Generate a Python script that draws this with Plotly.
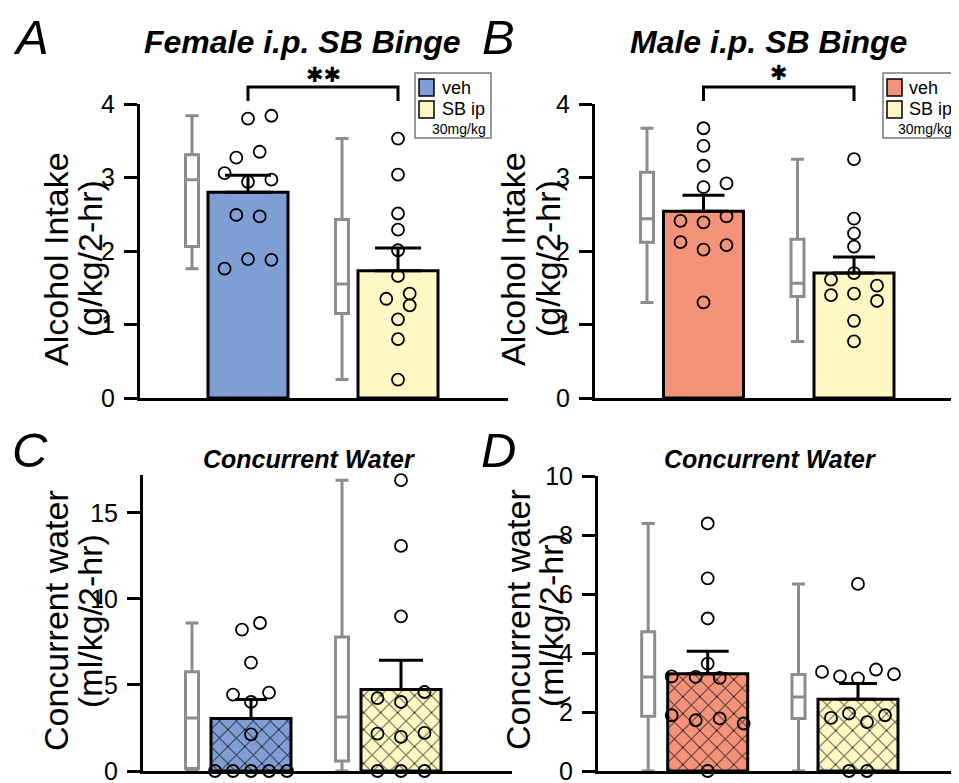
import plotly.graph_objects as go

W, H = 959, 783
OFF = 8  # the page body adds an 8 px margin; layout positions below are page pixels
FONT = "Liberation Sans, Arial, sans-serif"

# ---------------- data ----------------
groups = ["veh", "SB ip"]

# Panel A: Female i.p. SB Binge, alcohol intake (g/kg/2-hr)
A_bar_mean = [2.80, 1.73]
A_bar_sem = [0.23, 0.31]
A_veh_pts = [3.80, 3.84, 3.27, 3.35, 3.06, 2.94, 2.97, 2.49, 2.47, 1.76, 1.89, 1.88]
A_sb_pts = [3.53, 3.04, 2.51, 2.29, 2.01, 1.66, 1.42, 1.35, 1.26, 1.07, 0.80, 0.25]
A_box_low = [1.76, 0.25]
A_box_q1 = [2.06, 1.15]
A_box_med = [2.97, 1.55]
A_box_q3 = [3.31, 2.43]
A_box_high = [3.84, 3.53]

# Panel B: Male i.p. SB Binge, alcohol intake (g/kg/2-hr)
B_bar_mean = [2.54, 1.70]
B_bar_sem = [0.22, 0.22]
B_veh_pts = [3.67, 3.43, 3.16, 2.87, 2.92, 2.41, 2.39, 2.47, 2.12, 2.02, 2.08, 1.30]
B_sb_pts = [3.25, 2.44, 2.24, 2.06, 1.70, 1.61, 1.53, 1.40, 1.42, 1.32, 1.05, 0.77]
B_box_low = [1.30, 0.77]
B_box_q1 = [2.12, 1.38]
B_box_med = [2.44, 1.56]
B_box_q3 = [3.07, 2.16]
B_box_high = [3.67, 3.25]

# Panel C: Female concurrent water (ml/kg/2-hr)
C_bar_mean = [3.05, 4.73]
C_bar_sem = [1.10, 1.71]
C_veh_pts = [8.22, 8.60, 6.30, 4.44, 4.56, 4.01, 2.13, 0, 0, 0, 0, 0]
C_sb_pts = [16.9, 13.08, 8.99, 4.59, 4.24, 4.01, 2.17, 1.98, 2.21, 0, 0, 0]
C_box_low = [0.0, 0.0]
C_box_q1 = [0.14, 0.58]
C_box_med = [3.08, 3.14]
C_box_q3 = [5.76, 7.79]
C_box_high = [8.60, 16.9]

# Panel D: Male concurrent water (ml/kg/2-hr)
D_bar_mean = [3.30, 2.43]
D_bar_sem = [0.76, 0.54]
D_veh_pts = [8.39, 6.53, 5.17, 3.64, 3.21, 3.19, 3.16, 1.89, 1.72, 1.78, 1.61, 0]
D_sb_pts = [6.34, 3.36, 3.21, 3.14, 3.44, 3.28, 1.80, 1.95, 1.66, 1.89, 0, 0]
D_box_low = [0.0, 0.0]
D_box_q1 = [1.86, 1.78]
D_box_med = [3.19, 2.51]
D_box_q3 = [4.72, 3.27]
D_box_high = [8.39, 6.34]

# dot column index (horizontal swarm slot) for each point
A_veh_col = [0, 2, -1, 1, -2, 0, 2, -1, 1, -2, 0, 2]
A_sb_col = [0, 0, 0, 0, 0, 0, 1, -1, 1, 0, 0, 0]
B_veh_col = [0, 0, 0, 0, 1, -1, 0, 1, -1, 0, 1, 0]
B_sb_col = [0, 0, 0, 0, 0, -1, 1, -1, 0, 1, 0, 0]
C_veh_col = [-1, 1, 0, -2, 2, 0, 0, -4, -2, 0, 2, 4]
C_sb_col = [0, 0, 0, 1, -1, 0, -1, 0, 1, -1, 0, 1]
D_veh_col = [0, 0, 0, 0, -3, -1, 1, -3, -1, 1, 3, 0]
D_sb_col = [0, -4, -2, 0, 2, 4, -3, -1, 1, 3, -1, 1]

yticks_A = [0, 1, 2, 3, 4]
yticks_B = [0, 1, 2, 3, 4]
yticks_C = [0, 5, 10, 15]
yticks_D = [0, 2, 4, 6, 8, 10]

# ---------------- styling / layout ----------------
BLUE = "#7f9fd4"
SALMON = "#f4937a"
YELLOW = "#fff8c4"
GRAY = "#8c8c8c"

panels = [
    dict(key="A", xl=140, xr=508, yt=104, yb=398, c1=248, sp=150, boxoff=-56, dsp=11.7,
         ymax=4, ticks=yticks_A, colors=[BLUE, YELLOW], hatch=False, caps=[23, 23],
         mean=A_bar_mean, sem=A_bar_sem, pts=[A_veh_pts, A_sb_pts], cols=[A_veh_col, A_sb_col],
         box=[A_box_low, A_box_q1, A_box_med, A_box_q3, A_box_high], dsp2=11.7),
    dict(key="B", xl=595, xr=959, yt=104, yb=398, c1=703.5, sp=150.5, boxoff=-56.5, dsp=23,
         ymax=4, ticks=yticks_B, colors=[SALMON, YELLOW], hatch=False, caps=[21, 21],
         mean=B_bar_mean, sem=B_bar_sem, pts=[B_veh_pts, B_sb_pts], cols=[B_veh_col, B_sb_col],
         box=[B_box_low, B_box_q1, B_box_med, B_box_q3, B_box_high], dsp2=23),
    dict(key="C", xl=143, xr=512, yt=475, yb=771, c1=251, sp=150, boxoff=-59, dsp=9,
         ymax=17.2, ticks=yticks_C, colors=[BLUE, YELLOW], hatch=True, caps=[16, 22],
         mean=C_bar_mean, sem=C_bar_sem, pts=[C_veh_pts, C_sb_pts], cols=[C_veh_col, C_sb_col],
         box=[C_box_low, C_box_q1, C_box_med, C_box_q3, C_box_high], dsp2=23.5),
    dict(key="D", xl=598, xr=959, yt=476, yb=771, c1=707.7, sp=150.3, boxoff=-59.5, dsp=12,
         ymax=10, ticks=yticks_D, colors=[SALMON, YELLOW], hatch=True, caps=[21, 19],
         mean=D_bar_mean, sem=D_bar_sem, pts=[D_veh_pts, D_sb_pts], cols=[D_veh_col, D_sb_col],
         box=[D_box_low, D_box_q1, D_box_med, D_box_q3, D_box_high], dsp2=9),
]


def px(x):
    return (x - OFF) / W


def py(y):
    return 1 - (y - OFF) / H


fig = go.Figure()
layout_axes = {}

for k, p in enumerate(panels):
    n = "" if k == 0 else str(k + 1)
    xa, ya = "x" + n, "y" + n
    s = p["sp"]
    x0 = 1 + (p["xl"] - p["c1"]) / s
    x1 = 1 + (p["xr"] - p["c1"]) / s
    p["xrange"] = (x0, x1)
    layout_axes["xaxis" + n] = dict(
        domain=[px(p["xl"]), px(p["xr"])], range=[x0, x1], anchor=ya, automargin=False,
        showline=True, linecolor="black", linewidth=3, ticks="", showticklabels=False,
        showgrid=False, zeroline=False, fixedrange=True)
    layout_axes["yaxis" + n] = dict(
        domain=[py(p["yb"]), py(p["yt"])], range=[0, p["ymax"]], anchor=xa, automargin=False,
        showline=True, linecolor="black", linewidth=3, ticks="outside", ticklen=13,
        tickwidth=3, tickcolor="black", tickvals=p["ticks"], ticktext=[str(t) for t in p["ticks"]],
        tickfont=dict(family=FONT, size=25, color="black"), ticklabelstandoff=4,
        showgrid=False, zeroline=False, fixedrange=True)

    bw = 80 / s
    boxw = 13 / s
    lo, q1, med, q3, hi = p["box"]
    for i in range(2):
        xc = i + 1
        # box-and-whisker (gray)
        fig.add_trace(go.Box(
            x=[xc + p["boxoff"] / s], q1=[q1[i]], median=[med[i]], q3=[q3[i]],
            lowerfence=[lo[i]], upperfence=[hi[i]], width=boxw, whiskerwidth=1,
            fillcolor="white", line=dict(color=GRAY, width=3), boxpoints=False,
            xaxis=xa, yaxis=ya, showlegend=False, hoverinfo="skip"))
        # bar with SEM
        marker = dict(color=p["colors"][i], line=dict(color="black", width=3))
        if p["hatch"]:
            marker["pattern"] = dict(shape="x", fgcolor="black", bgcolor=p["colors"][i],
                                     size=12, solidity=0.14, fillmode="replace")
        fig.add_trace(go.Bar(
            x=[xc], y=[p["mean"][i]], width=bw, marker=marker,
            error_y=dict(type="data", array=[p["sem"][i]], arrayminus=[0], symmetric=False,
                         color="black", thickness=3, width=p["caps"][i]),
            xaxis=xa, yaxis=ya, showlegend=False, hoverinfo="skip"))
        # individual points
        dsp = p["dsp"] if i == 0 else p["dsp2"]
        fig.add_trace(go.Scatter(
            x=[xc + c * dsp / s for c in p["cols"][i]], y=p["pts"][i], mode="markers",
            marker=dict(symbol="circle-open", size=12, color="black", line=dict(width=1.8)),
            cliponaxis=False, xaxis=xa, yaxis=ya, showlegend=False, hoverinfo="skip"))


def dpaper(p, x, y):
    x0, x1 = p["xrange"]
    fx = (x - x0) / (x1 - x0)
    fy = y / p["ymax"]
    X = p["xl"] + fx * (p["xr"] - p["xl"])
    Y = p["yb"] - fy * (p["yb"] - p["yt"])
    return px(X), py(Y)


shapes = []
annotations = []

# significance brackets
for p, ytop, ylow, stars, sy in [(panels[0], 4.23, 4.04, "✱✱", 4.40), (panels[1], 4.23, 4.04, "✱", 4.42)]:
    xa_, yl_ = dpaper(p, 1, ylow)
    _, yt_ = dpaper(p, 1, ytop)
    xb_, _ = dpaper(p, 2, ylow)
    shapes.append(dict(type="path", xref="paper", yref="paper",
                       path=f"M {xa_},{yl_} L {xa_},{yt_} L {xb_},{yt_} L {xb_},{yl_}",
                       line=dict(color="black", width=3)))
    sx, syp = dpaper(p, 1.5, sy)
    annotations.append(dict(text=stars, x=sx, y=syp, xref="paper", yref="paper",
                            showarrow=False, xanchor="center", yanchor="middle",
                            font=dict(family="DejaVu Sans", size=21, color="black")))

# legends
for (bx0, bx1, sw0, sw1, tx, col) in [(415, 491, 419, 434, 440, BLUE), (883, 957, 887, 902, 907, SALMON)]:
    shapes.append(dict(type="rect", xref="paper", yref="paper", x0=px(bx0), x1=px(bx1),
                       y0=py(138), y1=py(73), line=dict(color="#7a7a7a", width=1.5),
                       fillcolor="white", layer="above"))
    shapes.append(dict(type="rect", xref="paper", yref="paper", x0=px(sw0), x1=px(sw1),
                       y0=py(96), y1=py(79), line=dict(color="black", width=1.5),
                       fillcolor=col, layer="above"))
    shapes.append(dict(type="rect", xref="paper", yref="paper", x0=px(sw0), x1=px(sw1),
                       y0=py(118), y1=py(101), line=dict(color="black", width=1.5),
                       fillcolor=YELLOW, layer="above"))
    annotations.append(dict(text=groups[0], x=px(tx), y=py(88), xref="paper", yref="paper",
                            showarrow=False, xanchor="left", yanchor="middle",
                            font=dict(family=FONT, size=18, color="black")))
    annotations.append(dict(text=groups[1], x=px(tx), y=py(109), xref="paper", yref="paper",
                            showarrow=False, xanchor="left", yanchor="middle",
                            font=dict(family=FONT, size=18, color="black")))
    annotations.append(dict(text="30mg/kg", x=px(bx1 - 3), y=py(129), xref="paper", yref="paper",
                            showarrow=False, xanchor="right", yanchor="middle",
                            font=dict(family=FONT, size=14, color="black")))

# panel letters (A/B anchored to the top edge so the text box stays inside)
for letter, x, y, anchor in [("A", 31, OFF, "top"), ("B", 498, OFF, "top"),
                             ("C", 30, 450, "middle"), ("D", 498, 450, "middle")]:
    annotations.append(dict(text=letter, x=px(x), y=py(y), xref="paper", yref="paper",
                            showarrow=False, xanchor="center", yanchor=anchor,
                            font=dict(family=FONT, size=49, color="black", style="italic")))

# titles
for text, x, y, size in [("Female i.p. SB Binge", 302, 42, 32), ("Male i.p. SB Binge", 768, 42, 32),
                         ("Concurrent Water", 309, 459, 25), ("Concurrent Water", 770, 459, 25)]:
    annotations.append(dict(text=text, x=px(x), y=py(y), xref="paper", yref="paper",
                            showarrow=False, xanchor="center", yanchor="middle",
                            font=dict(family=FONT, size=size, color="black",
                                      weight="bold", style="italic")))

# y-axis titles (two lines each)
for text, x, y in [("Alcohol Intake", 56, 259), ("(g/kg/2-hr)", 90, 259),
                   ("Alcohol Intake", 513, 259), ("(g/kg/2-hr)", 548, 259),
                   ("Concurrent water", 56, 621), ("(ml/kg/2-hr)", 90, 621),
                   ("Concurrent water", 518, 620), ("(ml/kg/2-hr)", 551, 620)]:
    annotations.append(dict(text=text, x=px(x), y=py(y), xref="paper", yref="paper",
                            showarrow=False, xanchor="center", yanchor="middle", textangle=-90,
                            font=dict(family=FONT, size=34, color="black")))

fig.update_layout(
    width=W, height=H, autosize=False,
    margin=dict(l=0, r=0, t=0, b=0, pad=0, autoexpand=False),
    paper_bgcolor="white", plot_bgcolor="white",
    barmode="overlay", boxmode="overlay", showlegend=False,
    shapes=shapes, annotations=annotations,
    **layout_axes,
)

fig.write_html("out.html")
